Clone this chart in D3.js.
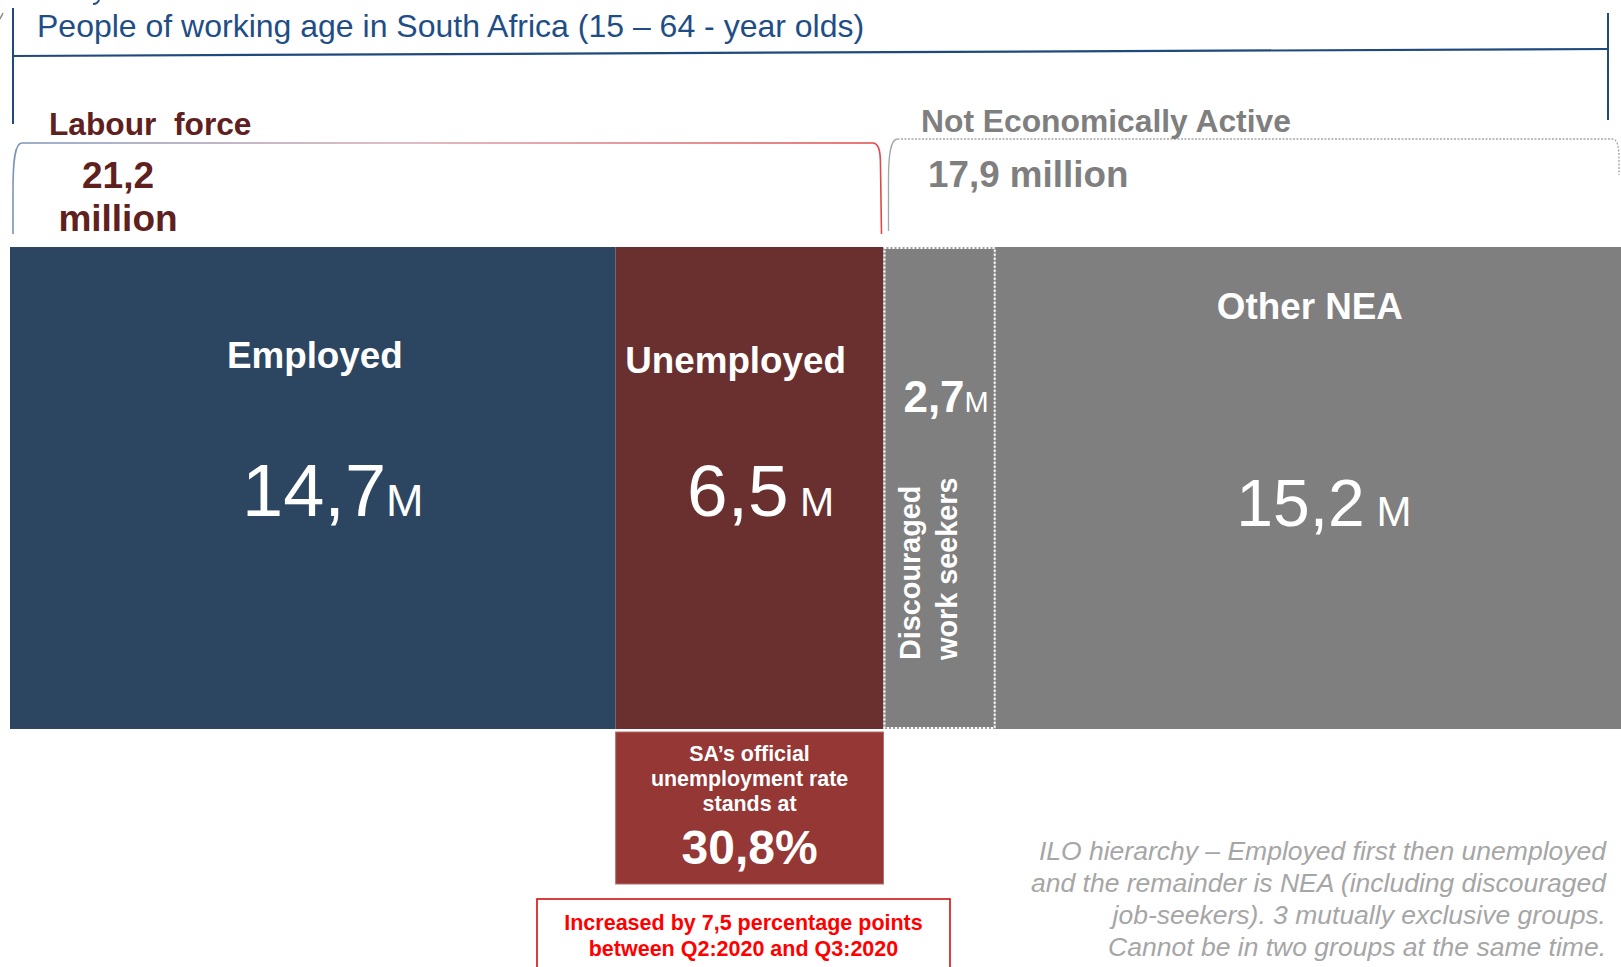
<!DOCTYPE html>
<html>
<head>
<meta charset="utf-8">
<title>People of working age in South Africa</title>
<script src="https://cdn.jsdelivr.net/npm/d3@7"></script>
<style>
  html, body { margin: 0; padding: 0; background: #ffffff; }
  svg { display: block; font-family: "Liberation Sans", Arial, Helvetica, sans-serif; }
</style>
</head>
<body>
<svg id="chart" width="1621" height="967"></svg>
<script>
// Working-age population (15-64), millions, Q3:2020
const categories = ["Employed", "Unemployed", "Discouraged work seekers", "Other NEA"];
const valuesM = [14.7, 6.5, 2.7, 15.2];
const groups = ["Labour force", "Not Economically Active"];
const groupTotalsM = [21.2, 17.9];
const unemploymentRate = 30.8;
const rateChangePoints = 7.5;
const quarters = ["Q2:2020", "Q3:2020"];

const titleText = "People of working age in South Africa (15 \u2013 64 - year olds)";
const noteLines = [
  "ILO hierarchy \u2013 Employed first then unemployed",
  "and the remainder is NEA (including discouraged",
  "job-seekers). 3 mutually exclusive groups.",
  "Cannot be in two groups at the same time."
];

const fills = ["#2c4662", "#6a2f2f", "#7f7f7f", "#7f7f7f"];
const comma = v => d3.format(".1f")(v).replace(".", ",");

const svg = d3.select("#chart");
const total = d3.sum(valuesM);
const x = d3.scaleLinear().domain([0, total]).range([10, 1621]);
const y = d3.scaleBand().domain(["population"]).range([247, 729]).padding(0);

// stacked segments
let acc = 0;
const segs = valuesM.map((v, i) => {
  const s = { name: categories[i], value: v, x0: acc, x1: acc + v, fill: fills[i], i };
  acc += v;
  return s;
});

// stray marks along the top edge (tail of a heading above the frame)
svg.append("path").attr("d", "M99,0 C98,3 96,4 93,4")
  .attr("fill", "none").attr("stroke", "#1f4e86").attr("stroke-width", 2);
svg.append("path").attr("d", "M0,19 L3,13").attr("stroke", "#8a8a8a").attr("stroke-width", 1.5);

// working-age bracket
const blue = "#1f4a7d";
svg.append("line").attr("x1", 13).attr("y1", 8).attr("x2", 13).attr("y2", 124)
  .attr("stroke", blue).attr("stroke-width", 2);
svg.append("line").attr("x1", 1608).attr("y1", 13).attr("x2", 1608).attr("y2", 120)
  .attr("stroke", blue).attr("stroke-width", 2);
svg.append("line").attr("x1", 13).attr("y1", 56).attr("x2", 1608).attr("y2", 49)
  .attr("stroke", blue).attr("stroke-width", 2.2);
svg.append("text").attr("x", 37).attr("y", 37).attr("fill", "#1f4e86")
  .attr("font-size", 32).text(titleText);

// labour force bracket with gradient stroke
const defs = svg.append("defs");
const lfL = x(0) + 3, lfR = x(groupTotalsM[0]) - 2;
const grad = defs.append("linearGradient").attr("id", "lfGrad")
  .attr("gradientUnits", "userSpaceOnUse").attr("x1", lfL).attr("x2", lfR).attr("y1", 0).attr("y2", 0);
grad.append("stop").attr("offset", 0).attr("stop-color", "#7b95b8");
grad.append("stop").attr("offset", 0.45).attr("stop-color", "#d8a6b2");
grad.append("stop").attr("offset", 1).attr("stop-color", "#e04848");
svg.append("path")
  .attr("d", `M${lfL},234 L${lfL},190 C${lfL},160 ${lfL + 2},143 ${lfL + 9},143 L${lfR - 9},143 C${lfR - 3},143 ${lfR - 1},150 ${lfR - 1},165 L${lfR},234`)
  .attr("fill", "none").attr("stroke", "url(#lfGrad)").attr("stroke-width", 1.6);

const lfColor = "#5f2120";
svg.append("text").attr("x", 49).attr("y", 135).attr("fill", lfColor)
  .attr("font-size", 31.7).attr("font-weight", "bold").attr("xml:space", "preserve")
  .text(groups[0].replace(" ", "  "));
svg.append("text").attr("x", 118).attr("y", 188).attr("text-anchor", "middle").attr("fill", lfColor)
  .attr("font-size", 37).attr("font-weight", "bold").text(comma(groupTotalsM[0]));
svg.append("text").attr("x", 118).attr("y", 231).attr("text-anchor", "middle").attr("fill", lfColor)
  .attr("font-size", 37).attr("font-weight", "bold").text("million");

// not economically active bracket
const neaL = x(groupTotalsM[0]) + 5, neaR = 1619;
svg.append("path")
  .attr("d", `M${neaL},231 L${neaL},180 C${neaL},155 ${neaL + 2},139 ${neaL + 9},139`)
  .attr("fill", "none").attr("stroke", "#a6a6a6").attr("stroke-width", 1.3);
svg.append("path")
  .attr("d", `M${neaL + 9},139 L${neaR - 7},139 C${neaR - 2},139 ${neaR},145 ${neaR},160 L${neaR},175`)
  .attr("fill", "none").attr("stroke", "#a6a6a6").attr("stroke-width", 1.3).attr("stroke-dasharray", "2,1.5");

const neaColor = "#7f7f7f";
svg.append("text").attr("x", 921).attr("y", 132).attr("fill", neaColor)
  .attr("font-size", 31.8).attr("font-weight", "bold").text(groups[1]);
svg.append("text").attr("x", 928).attr("y", 187).attr("fill", neaColor)
  .attr("font-size", 36.8).attr("font-weight", "bold").text(comma(groupTotalsM[1]) + " million");

// bars
svg.append("g").selectAll("rect").data(segs).join("rect")
  .attr("x", d => x(d.x0)).attr("width", d => x(d.x1) - x(d.x0))
  .attr("y", y("population")).attr("height", y.bandwidth())
  .attr("fill", d => d.fill);

// discouraged segment: dotted border
const disc = segs[2];
const dx0 = x(disc.x0) + 1, dx1 = x(disc.x1);
svg.append("rect").attr("x", dx0).attr("y", y("population") + 1)
  .attr("width", dx1 - dx0).attr("height", y.bandwidth() - 2)
  .attr("fill", "none").attr("stroke", "#9c9c9c").attr("stroke-width", 2);
svg.append("rect").attr("x", dx0).attr("y", y("population") + 1)
  .attr("width", dx1 - dx0).attr("height", y.bandwidth() - 2)
  .attr("fill", "none").attr("stroke", "#ffffff").attr("stroke-width", 2).attr("stroke-dasharray", "2,2");

// category and value labels
const labelLayout = [
  { name: { dx: 2, y: 368, size: 36.8 }, val: { dx: 20, y: 516, size: 74, unit: 45, gap: "" } },
  { name: { dx: -14, y: 373, size: 36.8 }, val: { dx: 11, y: 516, size: 73, unit: 41, gap: " " } },
  { name: null, val: { dx: 7, y: 412, size: 44, unit: 29, gap: "", bold: true } },
  { name: { dx: 2, y: 319, size: 36.8 }, val: { dx: 16, y: 526, size: 66, unit: 42, gap: " " } }
];

segs.forEach((d, i) => {
  const cx = (x(d.x0) + x(d.x1)) / 2;
  const L = labelLayout[i];
  if (L.name) {
    svg.append("text").attr("x", cx + L.name.dx).attr("y", L.name.y)
      .attr("text-anchor", "middle").attr("fill", "#ffffff")
      .attr("font-size", L.name.size).attr("font-weight", "bold").text(d.name);
  }
  const t = svg.append("text").attr("x", cx + L.val.dx).attr("y", L.val.y)
    .attr("text-anchor", "middle").attr("fill", "#ffffff").attr("xml:space", "preserve");
  t.append("tspan").attr("font-size", L.val.size)
    .attr("font-weight", L.val.bold ? "bold" : "normal").text(comma(d.value));
  t.append("tspan").attr("font-size", L.val.unit).text(L.val.gap + "M");
});

// rotated label inside the discouraged segment
const discWords = ["Discouraged", "work seekers"];
const discCx = (x(disc.x0) + x(disc.x1)) / 2;
discWords.forEach((w, k) => {
  svg.append("text")
    .attr("transform", `translate(${discCx - 19 + k * 37},660) rotate(-90)`)
    .attr("fill", "#ffffff").attr("font-size", 28.8).attr("font-weight", "bold")
    .text(w);
});

// unemployment rate callout under the unemployed segment
const un = segs[1];
const bx0 = x(un.x0), bx1 = x(un.x1);
const bcx = (bx0 + bx1) / 2;
svg.append("rect").attr("x", bx0).attr("y", 732).attr("width", bx1 - bx0).attr("height", 152)
  .attr("fill", "#943735").attr("stroke", "#b86a68").attr("stroke-width", 1);
["SA\u2019s official", "unemployment rate", "stands at"].forEach((s, k) => {
  svg.append("text").attr("x", bcx).attr("y", 761 + k * 25).attr("text-anchor", "middle")
    .attr("fill", "#ffffff").attr("font-size", 21.4).attr("font-weight", "bold").text(s);
});
svg.append("text").attr("x", bcx).attr("y", 864).attr("text-anchor", "middle")
  .attr("fill", "#ffffff").attr("font-size", 48).attr("font-weight", "bold")
  .text(comma(unemploymentRate) + "%");

// change note
svg.append("rect").attr("x", 537).attr("y", 899).attr("width", 413).attr("height", 90)
  .attr("fill", "#ffffff").attr("stroke", "#d01010").attr("stroke-width", 1.6);
[`Increased by ${comma(rateChangePoints)} percentage points`, `between ${quarters[0]} and ${quarters[1]}`]
  .forEach((s, k) => {
    svg.append("text").attr("x", 743.5).attr("y", 930 + k * 26).attr("text-anchor", "middle")
      .attr("fill", "#ff0000").attr("font-size", 21.5).attr("font-weight", "bold").text(s);
  });

// methodology note
noteLines.forEach((s, k) => {
  svg.append("text").attr("x", 1606).attr("y", 860 + k * 32).attr("text-anchor", "end")
    .attr("fill", "#a6a6a6").attr("font-size", 26.5).attr("font-style", "italic").text(s);
});
</script>
</body>
</html>
